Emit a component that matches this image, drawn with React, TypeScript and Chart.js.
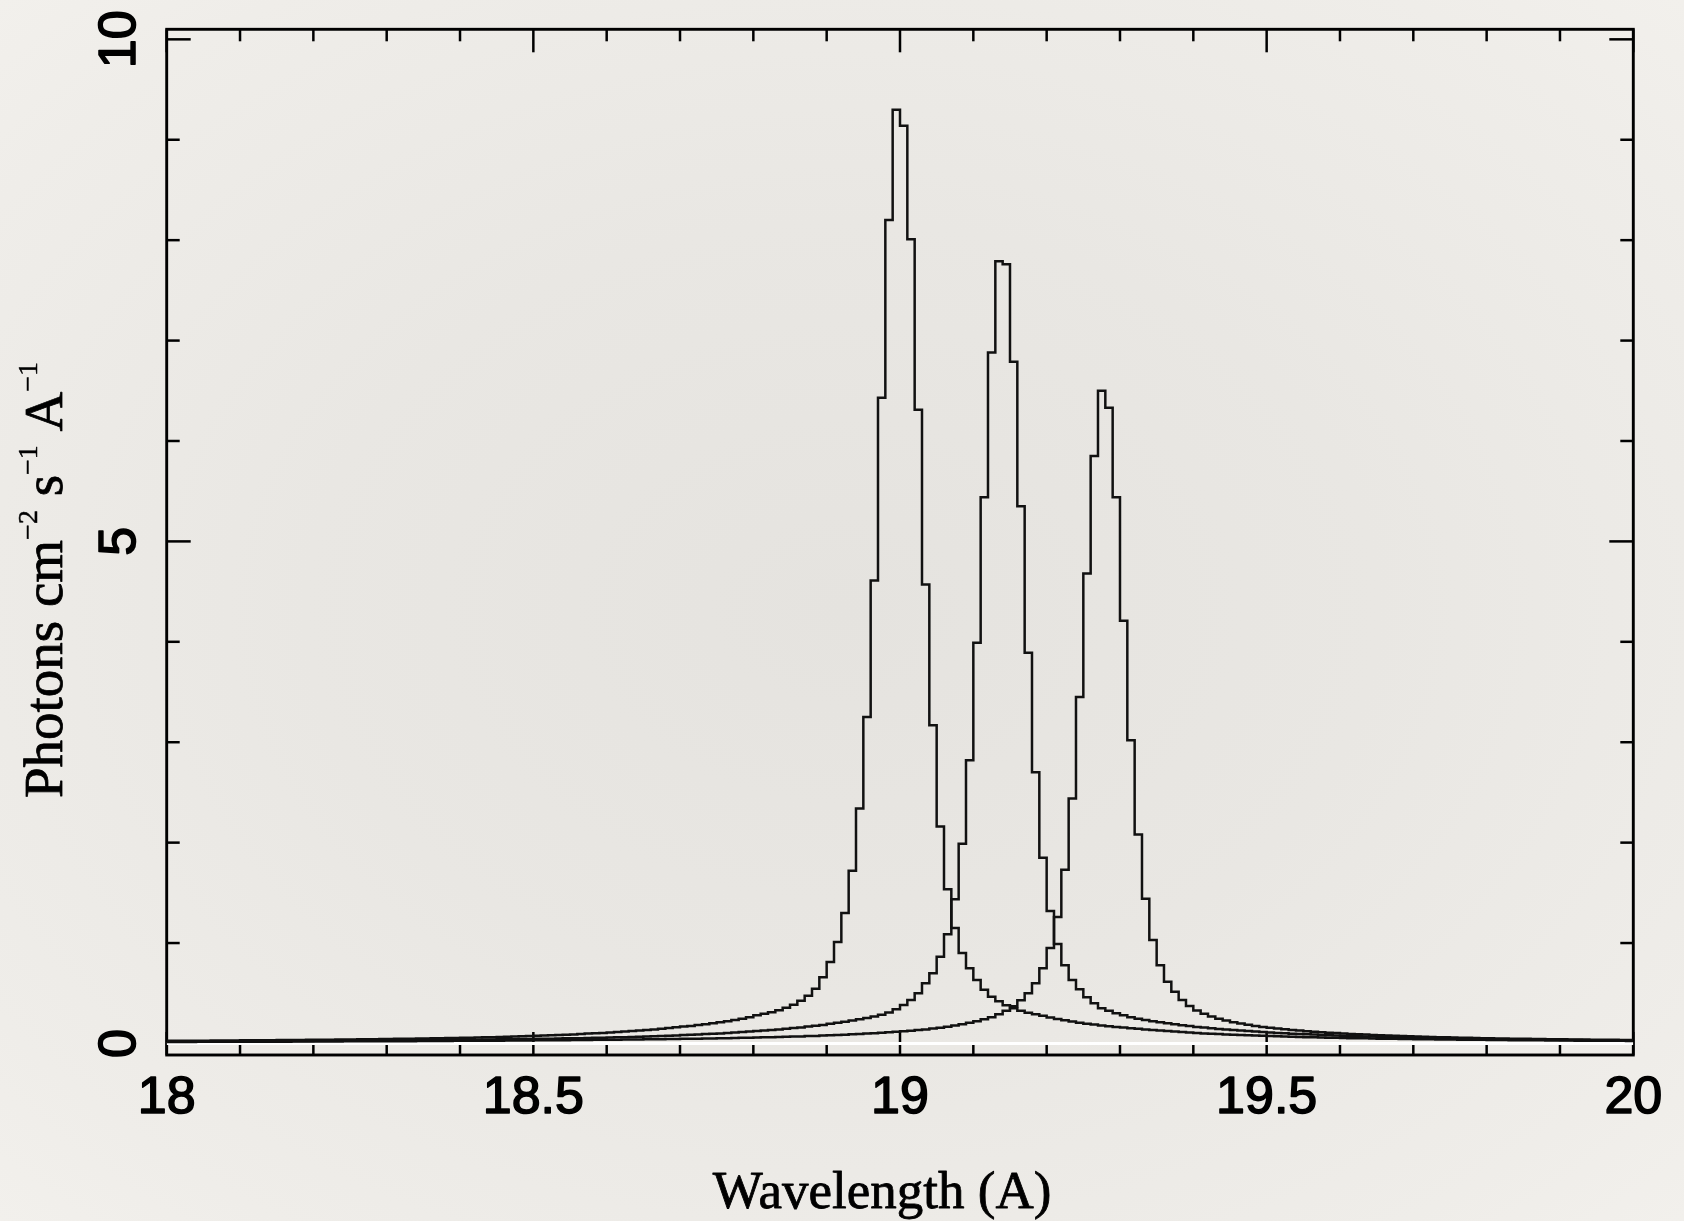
import React, { useEffect, useRef } from "react";
import { Chart, registerables } from "chart.js";

Chart.register(...registerables);

// ---- axis ranges & ticks ----
const X_MIN = 18;
const X_MAX = 20;
const Y_MIN = -0.115;
const Y_MAX = 10.1;
const xMajorTicks = [18, 18.5, 19, 19.5, 20];
const xTickLabels = ["18", "18.5", "19", "19.5", "20"];
const xMinorStep = 0.1;
const yMajorTicks = [0, 5, 10];
const yTickLabels = ["0", "5", "10"];
const yMinorStep = 1;

// ---- histogram bins: start 18.00 A, width 0.01 A (200 bins) ----
const BIN_START = 18.0;
const BIN_WIDTH = 0.01;

// Line near 19.00 A
const lineA = [
  0.026, 0.026, 0.027, 0.027, 0.028, 0.028, 0.029, 0.029, 0.030, 0.030,
  0.031, 0.031, 0.032, 0.032, 0.033, 0.034, 0.034, 0.035, 0.035, 0.036,
  0.037, 0.037, 0.038, 0.039, 0.040, 0.040, 0.041, 0.042, 0.043, 0.044,
  0.045, 0.046, 0.047, 0.048, 0.049, 0.050, 0.051, 0.052, 0.054, 0.055,
  0.057, 0.058, 0.060, 0.061, 0.063, 0.065, 0.067, 0.069, 0.071, 0.073,
  0.076, 0.078, 0.081, 0.084, 0.087, 0.090, 0.094, 0.098, 0.101, 0.105,
  0.109, 0.113, 0.118, 0.123, 0.128, 0.134, 0.140, 0.147, 0.154, 0.161,
  0.168, 0.175, 0.183, 0.192, 0.201, 0.211, 0.222, 0.234, 0.247, 0.262,
  0.280, 0.295, 0.310, 0.330, 0.355, 0.385, 0.425, 0.475, 0.545, 0.660,
  0.810, 1.010, 1.300, 1.720, 2.340, 3.250, 4.610, 6.430, 8.200, 9.300,
  9.140, 8.010, 6.310, 4.570, 3.170, 2.160, 1.535, 1.150, 0.900, 0.750,
  0.632, 0.535, 0.466, 0.420, 0.380, 0.350, 0.325, 0.305, 0.290, 0.275,
  0.258, 0.244, 0.230, 0.218, 0.207, 0.197, 0.188, 0.179, 0.171, 0.164,
  0.158, 0.152, 0.146, 0.140, 0.134, 0.129, 0.124, 0.119, 0.114, 0.109,
  0.104, 0.100, 0.097, 0.093, 0.090, 0.087, 0.084, 0.081, 0.078, 0.076,
  0.073, 0.071, 0.069, 0.067, 0.065, 0.063, 0.061, 0.059, 0.058, 0.056,
  0.055, 0.053, 0.052, 0.051, 0.049, 0.048, 0.047, 0.046, 0.045, 0.044,
  0.043, 0.042, 0.041, 0.040, 0.039, 0.039, 0.038, 0.037, 0.036, 0.036,
  0.035, 0.034, 0.034, 0.033, 0.032, 0.032, 0.031, 0.031, 0.030, 0.030,
  0.029, 0.029, 0.028, 0.028, 0.027, 0.027, 0.027, 0.026, 0.026, 0.025,
];

// Line near 19.14 A
const lineB = [
  0.019, 0.019, 0.019, 0.020, 0.020, 0.020, 0.021, 0.021, 0.021, 0.022,
  0.022, 0.022, 0.023, 0.023, 0.023, 0.024, 0.024, 0.025, 0.025, 0.025,
  0.026, 0.026, 0.027, 0.027, 0.028, 0.028, 0.028, 0.029, 0.029, 0.030,
  0.030, 0.031, 0.031, 0.032, 0.033, 0.033, 0.034, 0.035, 0.035, 0.036,
  0.037, 0.038, 0.038, 0.039, 0.040, 0.041, 0.042, 0.043, 0.044, 0.045,
  0.046, 0.047, 0.048, 0.049, 0.051, 0.052, 0.053, 0.055, 0.056, 0.058,
  0.060, 0.062, 0.063, 0.065, 0.067, 0.070, 0.072, 0.074, 0.077, 0.080,
  0.083, 0.086, 0.089, 0.093, 0.096, 0.100, 0.104, 0.108, 0.113, 0.118,
  0.123, 0.128, 0.134, 0.140, 0.146, 0.153, 0.160, 0.168, 0.176, 0.185,
  0.195, 0.205, 0.216, 0.228, 0.240, 0.253, 0.268, 0.285, 0.308, 0.340,
  0.383, 0.433, 0.500, 0.600, 0.700, 0.864, 1.087, 1.435, 1.990, 2.820,
  3.990, 5.440, 6.880, 7.790, 7.760, 6.790, 5.350, 3.890, 2.700, 1.850,
  1.320, 0.990, 0.780, 0.632, 0.540, 0.460, 0.400, 0.350, 0.325, 0.300,
  0.280, 0.262, 0.247, 0.234, 0.222, 0.211, 0.200, 0.190, 0.181, 0.173,
  0.165, 0.158, 0.151, 0.145, 0.139, 0.133, 0.128, 0.123, 0.118, 0.113,
  0.109, 0.105, 0.101, 0.097, 0.094, 0.091, 0.088, 0.085, 0.082, 0.079,
  0.077, 0.074, 0.072, 0.070, 0.068, 0.066, 0.064, 0.062, 0.060, 0.058,
  0.057, 0.055, 0.054, 0.052, 0.051, 0.049, 0.048, 0.047, 0.046, 0.045,
  0.044, 0.043, 0.042, 0.041, 0.040, 0.039, 0.038, 0.037, 0.036, 0.036,
  0.035, 0.034, 0.034, 0.033, 0.032, 0.032, 0.031, 0.031, 0.030, 0.030,
];

// Line near 19.28 A
const lineC = [
  0.015, 0.015, 0.015, 0.015, 0.016, 0.016, 0.016, 0.016, 0.017, 0.017,
  0.017, 0.017, 0.017, 0.018, 0.018, 0.018, 0.018, 0.019, 0.019, 0.019,
  0.019, 0.020, 0.020, 0.020, 0.021, 0.021, 0.021, 0.021, 0.022, 0.022,
  0.022, 0.023, 0.023, 0.023, 0.024, 0.024, 0.025, 0.025, 0.025, 0.026,
  0.026, 0.027, 0.027, 0.028, 0.028, 0.028, 0.029, 0.029, 0.030, 0.030,
  0.031, 0.031, 0.032, 0.033, 0.033, 0.034, 0.034, 0.035, 0.036, 0.036,
  0.037, 0.038, 0.039, 0.039, 0.040, 0.041, 0.042, 0.043, 0.044, 0.045,
  0.046, 0.047, 0.048, 0.049, 0.050, 0.052, 0.053, 0.054, 0.056, 0.057,
  0.059, 0.061, 0.062, 0.064, 0.066, 0.068, 0.070, 0.073, 0.075, 0.078,
  0.081, 0.084, 0.087, 0.091, 0.094, 0.098, 0.102, 0.107, 0.112, 0.116,
  0.121, 0.127, 0.133, 0.140, 0.148, 0.157, 0.167, 0.178, 0.190, 0.205,
  0.220, 0.240, 0.262, 0.290, 0.325, 0.370, 0.430, 0.500, 0.600, 0.750,
  0.950, 1.260, 1.730, 2.440, 3.450, 4.680, 5.850, 6.500, 6.330, 5.440,
  4.210, 3.020, 2.080, 1.440, 1.030, 0.780, 0.615, 0.516, 0.433, 0.373,
  0.327, 0.295, 0.268, 0.246, 0.228, 0.212, 0.198, 0.186, 0.175, 0.165,
  0.156, 0.148, 0.141, 0.134, 0.128, 0.122, 0.117, 0.112, 0.107, 0.103,
  0.099, 0.095, 0.091, 0.088, 0.085, 0.082, 0.079, 0.076, 0.074, 0.071,
  0.069, 0.067, 0.065, 0.063, 0.061, 0.059, 0.058, 0.056, 0.055, 0.053,
  0.052, 0.050, 0.049, 0.048, 0.047, 0.046, 0.045, 0.044, 0.043, 0.042,
  0.041, 0.040, 0.039, 0.039, 0.038, 0.037, 0.036, 0.036, 0.035, 0.034,
];

// zero-level reference line (drawn in white)
const zeroLevel = [0, 0];

const X_TITLE = "Wavelength (A)";
// y-title pieces: [text, isSuperscript]
const yTitleParts: [string, boolean][] = [
  ["Photons cm", false],
  ["\u22122", true],
  [" s", false],
  ["\u22121", true],
  [" A", false],
  ["\u22121", true],
];

const W = 1684;
const H = 1221;
const SANS = '"Liberation Sans", Arial, Helvetica, sans-serif';
const SERIF = '"Liberation Serif", "Times New Roman", serif';

function toHistogram(values: number[]) {
  const pts = values.map((v, i) => ({ x: BIN_START + i * BIN_WIDTH, y: v }));
  pts.push({ x: BIN_START + values.length * BIN_WIDTH, y: values[values.length - 1] });
  return pts;
}

function heavyText(ctx: CanvasRenderingContext2D, t: string, x: number, y: number, sw: number) {
  ctx.fillText(t, x, y);
  if (sw > 0) {
    ctx.lineWidth = sw;
    ctx.strokeText(t, x, y);
  }
}

const frameTicksPlugin = {
  id: "frameTicks",
  beforeDatasetsDraw(chart: any) {
    const { ctx, chartArea: ca, scales } = chart;
    const xs = scales.x;
    const ys = scales.y;
    ctx.save();
    ctx.strokeStyle = "#000";
    ctx.lineCap = "butt";
    ctx.lineWidth = 2.5;
    const seg = (x1: number, y1: number, x2: number, y2: number) => {
      ctx.beginPath();
      ctx.moveTo(x1, y1);
      ctx.lineTo(x2, y2);
      ctx.stroke();
    };
    // x ticks (bottom & top, inward)
    const nX = Math.round((X_MAX - X_MIN) / xMinorStep);
    for (let i = 0; i <= nX; i++) {
      const v = X_MIN + i * xMinorStep;
      const major = xMajorTicks.some((m) => Math.abs(m - v) < 1e-6);
      const len = major ? 23 : 12;
      const px = xs.getPixelForValue(v);
      seg(px, ca.bottom, px, ca.bottom - len);
      seg(px, ca.top, px, ca.top + len);
    }
    // y ticks (left & right, inward)
    for (let v = 0; v <= 10 + 1e-6; v += yMinorStep) {
      const major = yMajorTicks.some((m) => Math.abs(m - v) < 1e-6);
      const len = major ? 24 : 13;
      const py = ys.getPixelForValue(v);
      seg(ca.left, py, ca.left + len, py);
      seg(ca.right, py, ca.right - len, py);
    }
    // frame
    ctx.lineWidth = 2.9;
    ctx.strokeRect(ca.left, ca.top, ca.right - ca.left, ca.bottom - ca.top);
    ctx.restore();
  },
  afterDraw(chart: any) {
    const { ctx, chartArea: ca, scales } = chart;
    const xs = scales.x;
    const ys = scales.y;
    ctx.save();
    ctx.fillStyle = "#000";
    ctx.strokeStyle = "#000";
    ctx.lineJoin = "round";
    // x tick labels
    ctx.font = `52px ${SANS}`;
    ctx.textAlign = "center";
    ctx.textBaseline = "alphabetic";
    xMajorTicks.forEach((v, i) => {
      heavyText(ctx, xTickLabels[i], xs.getPixelForValue(v), ca.bottom + 58, 1.6);
    });
    // y tick labels (rotated)
    yMajorTicks.forEach((v, i) => {
      const py = ys.getPixelForValue(v);
      ctx.save();
      ctx.translate(ca.left - 32, py);
      ctx.rotate(-Math.PI / 2);
      ctx.textAlign = "center";
      heavyText(ctx, yTickLabels[i], 0, 0, 1.6);
      ctx.restore();
    });
    // x title
    ctx.font = `53px ${SERIF}`;
    ctx.textAlign = "center";
    heavyText(ctx, X_TITLE, 882, 1208, 0.8);
    // y title with superscripts
    const mainFont = `55px ${SERIF}`;
    const supFont = `28px ${SERIF}`;
    let total = 0;
    const widths = yTitleParts.map(([t, sup]) => {
      ctx.font = sup ? supFont : mainFont;
      const w = ctx.measureText(t).width;
      total += w;
      return w;
    });
    ctx.save();
    ctx.translate(62, 580);
    ctx.rotate(-Math.PI / 2);
    ctx.textAlign = "left";
    let cx = -total / 2;
    yTitleParts.forEach(([t, sup], i) => {
      ctx.font = sup ? supFont : mainFont;
      heavyText(ctx, t, cx, sup ? -25 : 0, sup ? 0.5 : 0.8);
      cx += widths[i];
    });
    ctx.restore();
    ctx.restore();
  },
};

export default function App() {
  const canvasRef = useRef<HTMLCanvasElement | null>(null);

  useEffect(() => {
    const canvas = canvasRef.current;
    if (!canvas) return;
    const lineStyle = { borderColor: "#111", borderWidth: 2.5, stepped: "before", pointRadius: 0, fill: false };
    const chart = new Chart(canvas, {
      type: "line",
      data: {
        datasets: [
          { label: "19.00 A", data: toHistogram(lineA), ...lineStyle },
          { label: "19.14 A", data: toHistogram(lineB), ...lineStyle },
          { label: "19.28 A", data: toHistogram(lineC), ...lineStyle },
          { label: "zero", data: zeroLevel.map((v, i) => ({ x: i === 0 ? X_MIN : X_MAX, y: v })), borderColor: "#ffffff", borderWidth: 3, pointRadius: 0, fill: false },
        ],
      },
      options: {
        animation: false,
        responsive: false,
        events: [],
        layout: { padding: { left: 166.7, right: W - 1633.3, top: 29.3, bottom: H - 1055 } },
        plugins: { legend: { display: false }, tooltip: { enabled: false }, title: { display: false } },
        scales: {
          x: { type: "linear", min: X_MIN, max: X_MAX, display: false },
          y: { type: "linear", min: Y_MIN, max: Y_MAX, display: false },
        },
        elements: { point: { radius: 0 }, line: { tension: 0 } },
      },
      plugins: [frameTicksPlugin],
    } as any);
    return () => chart.destroy();
  }, []);

  return (
    <div
      style={{
        position: "fixed",
        left: 0,
        top: 0,
        width: W,
        height: H,
        overflow: "hidden",
        background: "radial-gradient(ellipse at 50% 50%, #e5e3df 0%, #e9e7e3 45%, #efede9 85%, #f2f0ec 100%)",
      }}
    >
      <canvas ref={canvasRef} width={W} height={H} style={{ display: "block", width: W, height: H }} />
    </div>
  );
}
